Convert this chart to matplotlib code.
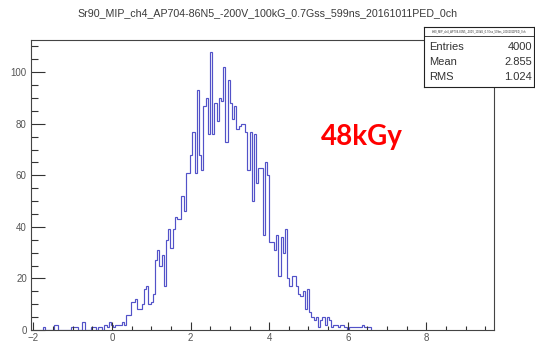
import matplotlib
matplotlib.use("Agg")
import matplotlib.pyplot as plt
import numpy as np
from matplotlib.ticker import MultipleLocator

# ---------------- data ----------------
title = "Sr90_MIP_ch4_AP704-86N5_-200V_100kG_0.7Gss_599ns_20161011PED_0ch"
bin_start = -1.76
bin_width = 0.056
counts_low = [1, 0, 0, 0, 0, 2, 2, 0, 0, 0, 0, 0, 0, 1, 1, 1, 0, 0, 3, 0,
              0, 0, 1, 1, 0, 1, 1, 0, 2, 1, 3, 2, 1, 2, 2, 2, 3, 2, 6, 6,
              11, 11, 12, 8, 8, 10, 16, 17, 10, 11, 14, 27, 31, 25, 29, 17]
counts_rise = [35, 39, 32, 39, 44, 43, 43, 52, 46, 61, 61, 68, 77, 61, 93, 68,
               62, 87, 90, 76, 108, 76, 88, 81, 90, 89, 102]
counts_fall = [73, 97, 88, 82, 87, 78, 79, 80, 80, 77, 62, 77, 50, 76, 57, 63,
               63, 37, 65, 60, 34, 34, 31, 37, 21, 36, 30, 39]
counts_tail = [20, 17, 21, 21, 17, 14, 13, 15, 8, 16, 7, 5, 4, 5, 1, 4, 5, 2,
               5, 4, 1, 2, 2, 1, 2, 2, 1, 0, 1, 1, 1, 1, 1, 1, 2, 1, 1, 1]
counts = counts_low + counts_rise + counts_fall + counts_tail

stats_labels = ["Entries", "Mean", "RMS"]
stats_values = ["4000", "2.855", "1.024"]
annotation = "48kGy"

# ---------------- figure ----------------
W, H = 535, 349
fig = plt.figure(figsize=(W / 100, H / 100), dpi=100)
fig.patch.set_facecolor("white")

ax = fig.add_axes([31 / W, 1 - 330 / H, (494 - 31) / W, (330 - 40) / H])
edges = bin_start + bin_width * np.arange(len(counts) + 1)
ax.stairs(counts, edges, color="#5252c8", lw=0.85)

ax.set_xlim(-2.06, 9.72)
ax.set_ylim(0, 112.5)
ax.xaxis.set_major_locator(MultipleLocator(2))
ax.xaxis.set_minor_locator(MultipleLocator(0.5))
ax.yaxis.set_major_locator(MultipleLocator(20))
ax.yaxis.set_minor_locator(MultipleLocator(5))

ax.tick_params(direction="in", which="both", top=False, right=False,
               labelsize=7, labelcolor="#555555", color="#333333", width=0.8)
ax.tick_params(axis="y", which="major", length=10, pad=3)
ax.tick_params(axis="y", which="minor", length=5)
ax.tick_params(axis="x", which="major", length=6, pad=2)
ax.tick_params(axis="x", which="minor", length=3)
for lab in ax.get_xticklabels() + ax.get_yticklabels():
    lab.set_family("Liberation Sans")
for s in ax.spines.values():
    s.set_color("#444444")
    s.set_linewidth(0.8)

# title
fig.text(268 / W, 1 - 13 / H, title, ha="center", va="center",
         fontsize=7.7, family="Liberation Sans", color="#3a3a3a")

# red annotation
fig.text(362 / W, 1 - 137 / H, annotation, ha="center", va="center",
         fontsize=20, fontweight="bold", family="Lato", color="#ff0000")

# stats box
bx = fig.add_axes([424 / W, 1 - 87 / H, 110 / W, 60 / H])
bx.set_xlim(0, 110)
bx.set_ylim(60, 0)
bx.set_xticks([])
bx.set_yticks([])
bx.set_facecolor("white")
for s in bx.spines.values():
    s.set_color("#222222")
    s.set_linewidth(0.8)
bx.plot([0, 110], [9, 9], color="#222222", lw=0.6)
bx.text(55, 4.5, title, ha="center", va="center", fontsize=1.9,
        family="Liberation Sans", color="#333333")
for i, (lab, val) in enumerate(zip(stats_labels, stats_values)):
    y = 20 + 15 * i
    bx.text(5, y, lab, ha="left", va="center", fontsize=8,
            family="Liberation Sans", color="#333333")
    bx.text(108, y, val, ha="right", va="center", fontsize=8,
            family="Liberation Sans", color="#333333")

fig.savefig("out.png", dpi=100)
